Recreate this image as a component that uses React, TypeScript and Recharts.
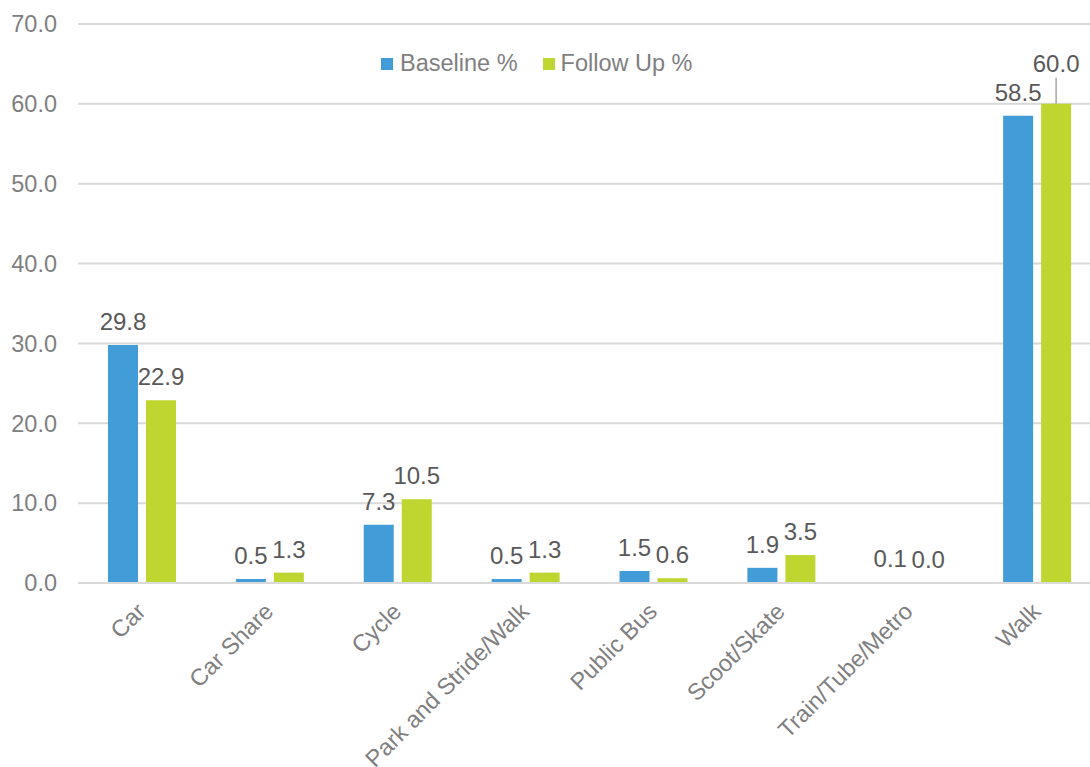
import React from 'react';
import {
  BarChart,
  Bar,
  XAxis,
  YAxis,
  CartesianGrid,
  Legend,
  LabelList,
} from 'recharts';

const modes = [
  'Car',
  'Car Share',
  'Cycle',
  'Park and Stride/Walk',
  'Public Bus',
  'Scoot/Skate',
  'Train/Tube/Metro',
  'Walk',
];
const baseline = [29.8, 0.5, 7.3, 0.5, 1.5, 1.9, 0.1, 58.5];
const followUp = [22.9, 1.3, 10.5, 1.3, 0.6, 3.5, 0.0, 60.0];
const yTicks = [0, 10, 20, 30, 40, 50, 60, 70];

const BLUE = '#429cd7';
const GREEN = '#bed62f';
const FONT = '"Liberation Sans", Arial, sans-serif';

const data = modes.map((mode, i) => ({
  mode,
  baseline: baseline[i],
  followUp: followUp[i],
}));

const CategoryTick = (props: any) => {
  const { x, y, payload } = props;
  const tx = x + 5;
  const ty = y + 30;
  return (
    <text
      x={tx}
      y={ty}
      transform={`rotate(-45, ${tx}, ${ty})`}
      textAnchor="end"
      fill="#7f7f7f"
      fontSize={23.5}
      fontFamily={FONT}
    >
      {payload.value}
    </text>
  );
};

// value labels; the tallest follow-up label is lifted with a leader line
const makeLabel = (liftValue: number | null) => (props: any) => {
  const { x, y, width, value } = props;
  const cx = x + width / 2;
  const text = Number(value).toFixed(1);
  if (liftValue !== null && Number(value) === liftValue) {
    return (
      <g>
        <line x1={cx} x2={cx} y1={y - 26} y2={y} stroke="#a6a6a6" strokeWidth={1.5} />
        <text x={cx} y={y - 32} textAnchor="middle" fill="#595959" fontSize={24} fontFamily={FONT}>
          {text}
        </text>
      </g>
    );
  }
  return (
    <text x={cx} y={y - 15} textAnchor="middle" fill="#595959" fontSize={24} fontFamily={FONT}>
      {text}
    </text>
  );
};

const LegendContent = () => (
  <div style={{ display: 'flex', alignItems: 'center', fontFamily: FONT, fontSize: 23.5, color: '#7f7f7f' }}>
    <span style={{ width: 12, height: 12, background: BLUE, display: 'inline-block', marginRight: 7 }} />
    <span style={{ marginRight: 25 }}>Baseline %</span>
    <span style={{ width: 12, height: 12, background: GREEN, display: 'inline-block', marginRight: 6 }} />
    <span>Follow Up %</span>
  </div>
);

// keep zero-height bars (and their labels) in the chart
const keepZero = (v: number) => (v === 0 ? 0.01 : 0);

export default function App() {
  return (
    <div
      style={{
        position: 'fixed',
        left: 0,
        top: 0,
        width: 1090,
        height: 767,
        overflow: 'hidden',
        background: '#fff',
      }}
    >
      <BarChart
        width={1101}
        height={767}
        data={data}
        margin={{ top: 24, right: 0, left: 0, bottom: 0 }}
        barSize={30}
        barGap={8}
      >
        <CartesianGrid vertical={false} stroke="#d9d9d9" strokeWidth={2} />
        <XAxis
          dataKey="mode"
          interval={0}
          tickLine={false}
          axisLine={{ stroke: '#d9d9d9', strokeWidth: 2 }}
          tickSize={0}
          tickMargin={0}
          height={184}
          tick={<CategoryTick />}
        />
        <YAxis
          width={78}
          domain={[0, 70]}
          ticks={yTicks}
          tickFormatter={(v: number) => v.toFixed(1)}
          tickLine={false}
          axisLine={false}
          tickSize={0}
          tickMargin={21}
          tick={{ fill: '#7f7f7f', fontSize: 23.5, fontFamily: FONT }}
        />
        <Legend
          layout="horizontal"
          verticalAlign="middle"
          align="center"
          content={<LegendContent />}
          wrapperStyle={{ top: 50, left: 381, width: 'auto' }}
        />
        <Bar dataKey="baseline" name="Baseline %" fill={BLUE} isAnimationActive={false} minPointSize={keepZero}>
          <LabelList dataKey="baseline" content={makeLabel(null)} />
        </Bar>
        <Bar dataKey="followUp" name="Follow Up %" fill={GREEN} isAnimationActive={false} minPointSize={keepZero}>
          <LabelList dataKey="followUp" content={makeLabel(Math.max(...followUp))} />
        </Bar>
      </BarChart>
    </div>
  );
}
